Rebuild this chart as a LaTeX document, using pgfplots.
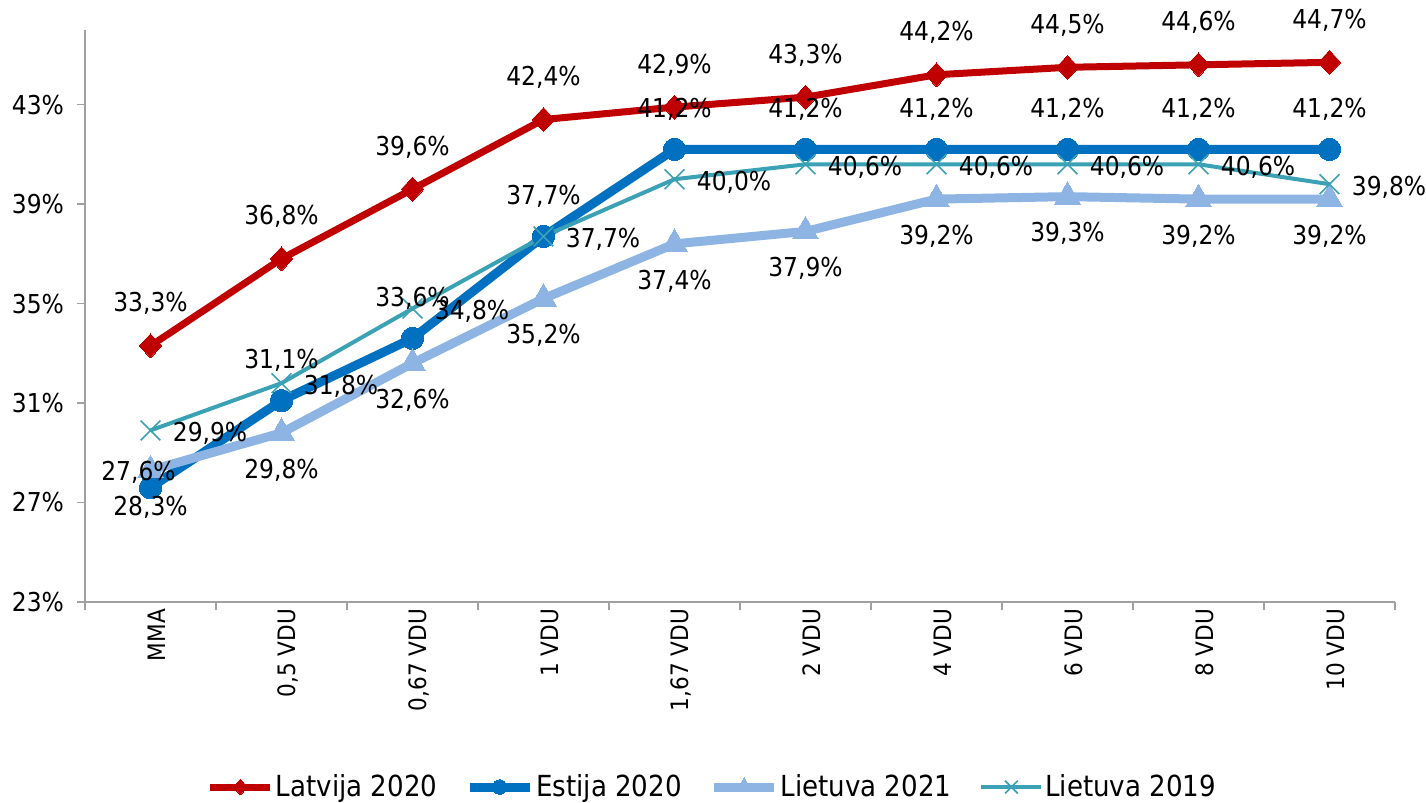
\documentclass[border=0pt]{standalone}
\usepackage{fontspec}
\IfFontExistsTF{DejaVu Sans Condensed}{\setmainfont{DejaVu Sans Condensed}}{\setmainfont{PT Sans}}
\usepackage{pgfplots}
\usepackage{pgfplotstable}
\pgfplotsset{compat=1.18}
\definecolor{latv}{RGB}{192,0,0}
\definecolor{est}{RGB}{0,112,192}
\definecolor{ltA}{RGB}{142,180,227}
\definecolor{ltB}{RGB}{59,161,181}
\definecolor{axgray}{RGB}{160,160,160}

\pgfplotstableread{
x y
0 33.3
1 36.8
2 39.6
3 42.4
4 42.9
5 43.3
6 44.2
7 44.5
8 44.6
9 44.7
}\latv
\pgfplotstableread{
x y
0 27.6
1 31.1
2 33.6
3 37.7
4 41.2
5 41.2
6 41.2
7 41.2
8 41.2
9 41.2
}\est
\pgfplotstableread{
x y
0 28.3
1 29.8
2 32.6
3 35.2
4 37.4
5 37.9
6 39.2
7 39.3
8 39.2
9 39.2
}\ltA
\pgfplotstableread{
x y
0 29.9
1 31.8
2 34.8
3 37.7
4 40.0
5 40.6
6 40.6
7 40.6
8 40.6
9 39.8
}\ltB

\begin{document}
\begin{tikzpicture}
\useasboundingbox (-42.5pt,-100.5pt) rectangle (670.5pt,301pt);
\begin{axis}[
  scale only axis,
  width=655pt, height=286pt,
  xmin=-0.5, xmax=9.5,
  ymin=23, ymax=46,
  clip=false,
  axis x line*=bottom, axis y line*=left,
  axis line style={draw=axgray, line width=0.8pt},
  tick style={draw=axgray, line width=0.8pt},
  tick align=outside,
  major tick length=4pt,
  xtick={-0.5,0.5,...,9.5},
  xticklabels={},
  extra x ticks={0,1,2,3,4,5,6,7,8,9},
  extra x tick labels={MMA,{0,5 VDU},{0,67 VDU},1 VDU,{1,67 VDU},2 VDU,4 VDU,6 VDU,8 VDU,10 VDU},
  extra x tick style={major tick length=0pt,
    xticklabel style={rotate=90, anchor=east, font=\fontsize{12}{14}\selectfont, yshift=-3pt}},
  ytick={23,27,31,35,39,43},
  yticklabels={23\%,27\%,31\%,35\%,39\%,43\%},
  yticklabel style={font=\fontsize{13}{15}\selectfont, xshift=-3pt},
  line join=round,
  legend columns=4,
  legend style={draw=none, fill=none, at={(axis description cs:0.479,0)}, anchor=center, yshift=-92.5pt,
    font=\fontsize{14.5}{17}\selectfont, inner sep=0pt,
    /tikz/every even column/.append style={column sep=13pt},
    nodes={inner xsep=1pt}},
  legend image code/.code={\draw[mark repeat=2,mark phase=2,#1, every mark/.append style={scale=0.65}] plot coordinates {(0pt,0pt) (15pt,0pt) (30pt,0pt)};},
]
\addplot[color=latv, line width=3.5pt, mark=diamond*, mark size=6pt, mark options={solid, line width=0pt, xscale=1.25}] table {\latv};
\addlegendentry{Latvija 2020}
\addplot[color=est, line width=4.5pt, mark=*, mark size=5.6pt, mark options={solid, line width=0pt}] table {\est};
\addlegendentry{Estija 2020}
\addplot[color=ltA, line width=4.5pt, mark=triangle*, mark size=7.5pt, mark options={solid, line width=0pt}] table {\ltA};
\addlegendentry{Lietuva 2021}
\addplot[color=ltB, line width=2pt, mark=x, mark size=7pt, mark options={solid, line width=0.8pt}] table {\ltB};
\addlegendentry{Lietuva 2019}

% data labels
\pgfplotsset{every node near coord/.append style={font=\fontsize{13}{15}\selectfont, text=black, inner sep=0pt}}
\addplot[draw=none, mark=none, forget plot, nodes near coords={\pgfmathprintnumber[fixed,fixed zerofill,precision=1,use comma,assume math mode=true]{\pgfplotspointmeta}\%},
  every node near coord/.append style={anchor=center, yshift=21pt}] table {\latv};
\addplot[draw=none, mark=none, forget plot, skip coords between index={0}{1}, nodes near coords={\pgfmathprintnumber[fixed,fixed zerofill,precision=1,use comma,assume math mode=true]{\pgfplotspointmeta}\%},
  every node near coord/.append style={anchor=center, yshift=20pt}] table {\est};
\addplot[draw=none, mark=none, forget plot, skip coords between index={1}{10}, nodes near coords={\pgfmathprintnumber[fixed,fixed zerofill,precision=1,use comma,assume math mode=true]{\pgfplotspointmeta}\%},
  every node near coord/.append style={anchor=center, xshift=-6pt, yshift=7.5pt}] table {\est};
\addplot[draw=none, mark=none, forget plot, nodes near coords={\pgfmathprintnumber[fixed,fixed zerofill,precision=1,use comma,assume math mode=true]{\pgfplotspointmeta}\%},
  every node near coord/.append style={anchor=center, yshift=-18.5pt}] table {\ltA};
\addplot[draw=none, mark=none, forget plot, nodes near coords={\pgfmathprintnumber[fixed,fixed zerofill,precision=1,use comma,assume math mode=true]{\pgfplotspointmeta}\%},
  every node near coord/.append style={anchor=west, xshift=11pt, yshift=-1.5pt}] table {\ltB};
\end{axis}
\end{tikzpicture}
\end{document}
